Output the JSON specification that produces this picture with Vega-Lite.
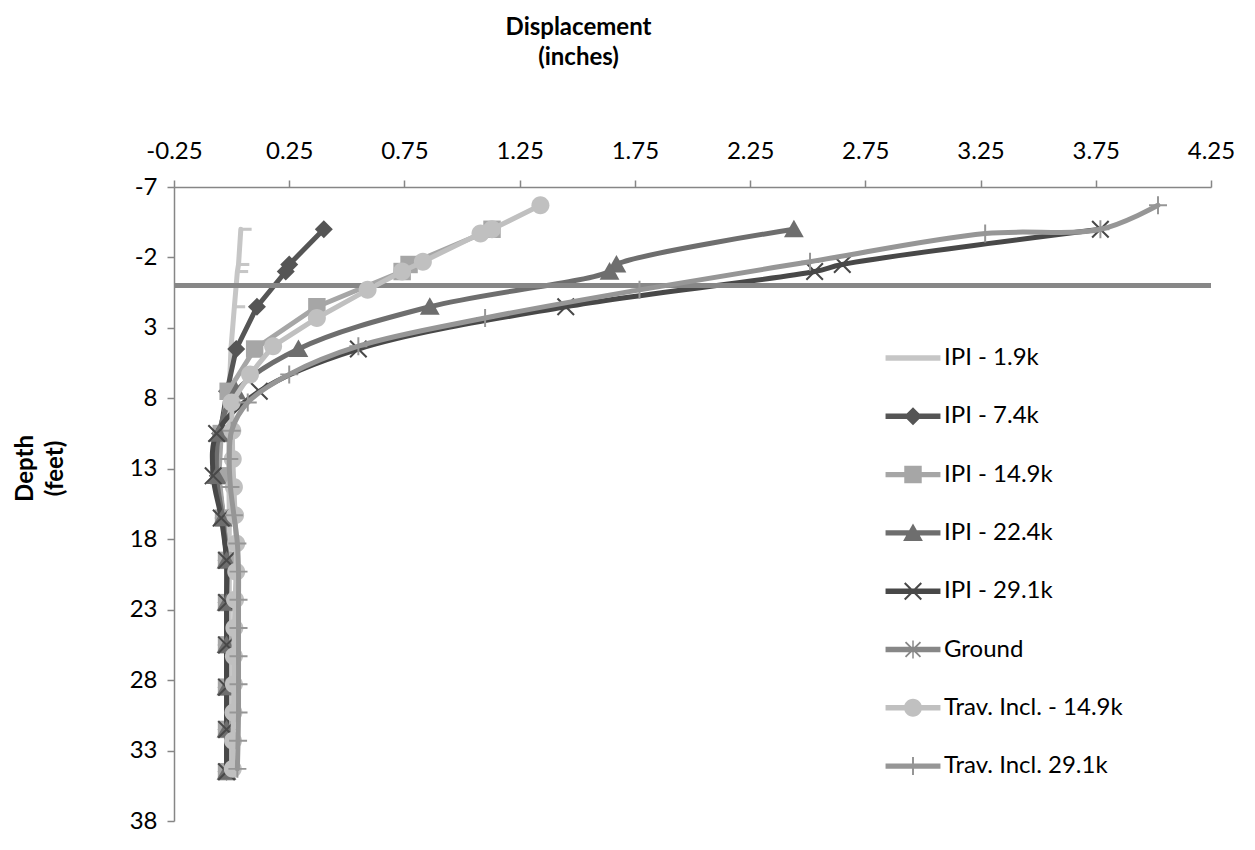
{
  "$schema": "https://vega.github.io/schema/vega-lite/v6.json",
  "width": 1037,
  "height": 634,
  "autosize": "none",
  "padding": {"left": 174, "top": 187, "right": 44, "bottom": 29},
  "background": "white",
  "config": {
    "view": {"stroke": null},
    "axis": {
      "grid": false,
      "domainColor": "#868686",
      "tickColor": "#868686",
      "domainWidth": 1.5,
      "tickWidth": 1.5,
      "tickSize": 7,
      "labelFont": "Lato",
      "labelFontSize": 24,
      "labelColor": "#000000",
      "labelFlush": false,
      "labelOverlap": false,
      "titleFont": "Lato",
      "titleFontSize": 24,
      "titleFontWeight": "bold",
      "titleColor": "#000000",
      "titleLineHeight": 30
    }
  },
  "data": {
    "values": [
      {"s": "IPI - 1.9k", "d": -4, "x": 0.04},
      {"s": "IPI - 1.9k", "d": -1.5, "x": 0.03},
      {"s": "IPI - 1.9k", "d": -1, "x": 0.025},
      {"s": "IPI - 1.9k", "d": 1.5, "x": 0.012},
      {"s": "IPI - 1.9k", "d": 4.5, "x": -0.003},
      {"s": "IPI - 1.9k", "d": 7.5, "x": -0.01},
      {"s": "IPI - 1.9k", "d": 10.5, "x": -0.012},
      {"s": "IPI - 1.9k", "d": 13.5, "x": -0.012},
      {"s": "IPI - 1.9k", "d": 16.5, "x": -0.01},
      {"s": "IPI - 1.9k", "d": 19.5, "x": -0.01},
      {"s": "IPI - 1.9k", "d": 22.5, "x": -0.01},
      {"s": "IPI - 1.9k", "d": 25.5, "x": -0.01},
      {"s": "IPI - 1.9k", "d": 28.5, "x": -0.01},
      {"s": "IPI - 1.9k", "d": 31.5, "x": -0.01},
      {"s": "IPI - 1.9k", "d": 34.5, "x": -0.01},

      {"s": "IPI - 7.4k", "d": -4, "x": 0.4},
      {"s": "IPI - 7.4k", "d": -1.5, "x": 0.25},
      {"s": "IPI - 7.4k", "d": -1, "x": 0.235},
      {"s": "IPI - 7.4k", "d": 1.5, "x": 0.11},
      {"s": "IPI - 7.4k", "d": 4.5, "x": 0.02},
      {"s": "IPI - 7.4k", "d": 7.5, "x": -0.02},
      {"s": "IPI - 7.4k", "d": 10.5, "x": -0.05},
      {"s": "IPI - 7.4k", "d": 13.5, "x": -0.06},
      {"s": "IPI - 7.4k", "d": 16.5, "x": -0.035},
      {"s": "IPI - 7.4k", "d": 19.5, "x": -0.022},
      {"s": "IPI - 7.4k", "d": 22.5, "x": -0.022},
      {"s": "IPI - 7.4k", "d": 25.5, "x": -0.022},
      {"s": "IPI - 7.4k", "d": 28.5, "x": -0.022},
      {"s": "IPI - 7.4k", "d": 31.5, "x": -0.022},
      {"s": "IPI - 7.4k", "d": 34.5, "x": -0.022},

      {"s": "IPI - 14.9k", "d": -4, "x": 1.13},
      {"s": "IPI - 14.9k", "d": -1.5, "x": 0.77},
      {"s": "IPI - 14.9k", "d": -1, "x": 0.74},
      {"s": "IPI - 14.9k", "d": 1.5, "x": 0.37},
      {"s": "IPI - 14.9k", "d": 4.5, "x": 0.1},
      {"s": "IPI - 14.9k", "d": 7.5, "x": -0.015},
      {"s": "IPI - 14.9k", "d": 10.5, "x": -0.045},
      {"s": "IPI - 14.9k", "d": 13.5, "x": -0.055},
      {"s": "IPI - 14.9k", "d": 16.5, "x": -0.035},
      {"s": "IPI - 14.9k", "d": 19.5, "x": -0.022},
      {"s": "IPI - 14.9k", "d": 22.5, "x": -0.022},
      {"s": "IPI - 14.9k", "d": 25.5, "x": -0.022},
      {"s": "IPI - 14.9k", "d": 28.5, "x": -0.022},
      {"s": "IPI - 14.9k", "d": 31.5, "x": -0.022},
      {"s": "IPI - 14.9k", "d": 34.5, "x": -0.022},

      {"s": "IPI - 22.4k", "d": -4, "x": 2.44},
      {"s": "IPI - 22.4k", "d": -1.5, "x": 1.67},
      {"s": "IPI - 22.4k", "d": -1, "x": 1.64},
      {"s": "IPI - 22.4k", "d": 1.5, "x": 0.86},
      {"s": "IPI - 22.4k", "d": 4.5, "x": 0.29},
      {"s": "IPI - 22.4k", "d": 7.5, "x": 0.02},
      {"s": "IPI - 22.4k", "d": 10.5, "x": -0.055},
      {"s": "IPI - 22.4k", "d": 13.5, "x": -0.065},
      {"s": "IPI - 22.4k", "d": 16.5, "x": -0.04},
      {"s": "IPI - 22.4k", "d": 19.5, "x": -0.022},
      {"s": "IPI - 22.4k", "d": 22.5, "x": -0.022},
      {"s": "IPI - 22.4k", "d": 25.5, "x": -0.022},
      {"s": "IPI - 22.4k", "d": 28.5, "x": -0.022},
      {"s": "IPI - 22.4k", "d": 31.5, "x": -0.022},
      {"s": "IPI - 22.4k", "d": 34.5, "x": -0.022},

      {"s": "IPI - 29.1k", "d": -4, "x": 3.77},
      {"s": "IPI - 29.1k", "d": -1.5, "x": 2.65},
      {"s": "IPI - 29.1k", "d": -1, "x": 2.53},
      {"s": "IPI - 29.1k", "d": 1.5, "x": 1.45},
      {"s": "IPI - 29.1k", "d": 4.5, "x": 0.55},
      {"s": "IPI - 29.1k", "d": 7.5, "x": 0.12},
      {"s": "IPI - 29.1k", "d": 10.5, "x": -0.065},
      {"s": "IPI - 29.1k", "d": 13.5, "x": -0.08},
      {"s": "IPI - 29.1k", "d": 16.5, "x": -0.045},
      {"s": "IPI - 29.1k", "d": 19.5, "x": -0.022},
      {"s": "IPI - 29.1k", "d": 22.5, "x": -0.022},
      {"s": "IPI - 29.1k", "d": 25.5, "x": -0.022},
      {"s": "IPI - 29.1k", "d": 28.5, "x": -0.022},
      {"s": "IPI - 29.1k", "d": 31.5, "x": -0.022},
      {"s": "IPI - 29.1k", "d": 34.5, "x": -0.022},

      {"s": "Ground", "d": 0, "x": -0.25},
      {"s": "Ground", "d": 0, "x": 4.25},

      {"s": "Trav. Incl. - 14.9k", "d": -5.7, "x": 1.34},
      {"s": "Trav. Incl. - 14.9k", "d": -4, "x": 1.13},
      {"s": "Trav. Incl. - 14.9k", "d": -3.7, "x": 1.08},
      {"s": "Trav. Incl. - 14.9k", "d": -1.7, "x": 0.83},
      {"s": "Trav. Incl. - 14.9k", "d": -1, "x": 0.74},
      {"s": "Trav. Incl. - 14.9k", "d": 0.3, "x": 0.59},
      {"s": "Trav. Incl. - 14.9k", "d": 2.3, "x": 0.37},
      {"s": "Trav. Incl. - 14.9k", "d": 4.3, "x": 0.18},
      {"s": "Trav. Incl. - 14.9k", "d": 6.3, "x": 0.08},
      {"s": "Trav. Incl. - 14.9k", "d": 8.3, "x": 0.0},
      {"s": "Trav. Incl. - 14.9k", "d": 10.3, "x": 0.003},
      {"s": "Trav. Incl. - 14.9k", "d": 12.3, "x": 0.005},
      {"s": "Trav. Incl. - 14.9k", "d": 14.3, "x": 0.01},
      {"s": "Trav. Incl. - 14.9k", "d": 16.3, "x": 0.015},
      {"s": "Trav. Incl. - 14.9k", "d": 18.3, "x": 0.02},
      {"s": "Trav. Incl. - 14.9k", "d": 20.3, "x": 0.02},
      {"s": "Trav. Incl. - 14.9k", "d": 22.3, "x": 0.015},
      {"s": "Trav. Incl. - 14.9k", "d": 24.3, "x": 0.012},
      {"s": "Trav. Incl. - 14.9k", "d": 26.3, "x": 0.01},
      {"s": "Trav. Incl. - 14.9k", "d": 28.3, "x": 0.01},
      {"s": "Trav. Incl. - 14.9k", "d": 30.3, "x": 0.008},
      {"s": "Trav. Incl. - 14.9k", "d": 32.3, "x": 0.006},
      {"s": "Trav. Incl. - 14.9k", "d": 34.3, "x": 0.005},

      {"s": "Trav. Incl. 29.1k", "d": -5.7, "x": 4.02},
      {"s": "Trav. Incl. 29.1k", "d": -4, "x": 3.77},
      {"s": "Trav. Incl. 29.1k", "d": -3.7, "x": 3.27},
      {"s": "Trav. Incl. 29.1k", "d": -1.7, "x": 2.51},
      {"s": "Trav. Incl. 29.1k", "d": 0.3, "x": 1.77},
      {"s": "Trav. Incl. 29.1k", "d": 2.3, "x": 1.1},
      {"s": "Trav. Incl. 29.1k", "d": 4.3, "x": 0.55},
      {"s": "Trav. Incl. 29.1k", "d": 6.3, "x": 0.25},
      {"s": "Trav. Incl. 29.1k", "d": 8.3, "x": 0.07},
      {"s": "Trav. Incl. 29.1k", "d": 10.3, "x": 0.0},
      {"s": "Trav. Incl. 29.1k", "d": 12.3, "x": -0.01},
      {"s": "Trav. Incl. 29.1k", "d": 14.3, "x": -0.005},
      {"s": "Trav. Incl. 29.1k", "d": 16.3, "x": 0.01},
      {"s": "Trav. Incl. 29.1k", "d": 18.3, "x": 0.025},
      {"s": "Trav. Incl. 29.1k", "d": 20.3, "x": 0.03},
      {"s": "Trav. Incl. 29.1k", "d": 22.3, "x": 0.03},
      {"s": "Trav. Incl. 29.1k", "d": 24.3, "x": 0.03},
      {"s": "Trav. Incl. 29.1k", "d": 26.3, "x": 0.03},
      {"s": "Trav. Incl. 29.1k", "d": 28.3, "x": 0.03},
      {"s": "Trav. Incl. 29.1k", "d": 30.3, "x": 0.03},
      {"s": "Trav. Incl. 29.1k", "d": 32.3, "x": 0.028},
      {"s": "Trav. Incl. 29.1k", "d": 34.3, "x": 0.025}
    ]
  },
  "encoding": {
    "x": {
      "field": "x",
      "type": "quantitative",
      "scale": {"domain": [-0.25, 4.25], "nice": false, "zero": false},
      "axis": {
        "orient": "top",
        "values": [-0.25, 0.25, 0.75, 1.25, 1.75, 2.25, 2.75, 3.25, 3.75, 4.25],
        "format": ".2f",
        "labelExpr": "replace(datum.label, '−', '-')",
        "labelPadding": 17,
        "title": ["Displacement", "(inches)"],
        "titleX": 404,
        "titleY": -153,
        "titleAlign": "center",
        "titleBaseline": "alphabetic"
      }
    },
    "y": {
      "field": "d",
      "type": "quantitative",
      "scale": {"domain": [-7, 38], "reverse": true, "nice": false, "zero": false},
      "axis": {
        "orient": "left",
        "values": [-7, -2, 3, 8, 13, 18, 23, 28, 33, 38],
        "labelExpr": "replace(datum.label, '−', '-')",
        "labelPadding": 10,
        "title": ["Depth", "(feet)"],
        "titleAngle": -90,
        "titleX": -142,
        "titleY": 281,
        "titleAlign": "center",
        "titleBaseline": "alphabetic"
      }
    },
    "color": {
      "field": "s",
      "type": "nominal",
      "scale": {
        "domain": ["IPI - 1.9k", "IPI - 7.4k", "IPI - 14.9k", "IPI - 22.4k", "IPI - 29.1k", "Ground", "Trav. Incl. - 14.9k", "Trav. Incl. 29.1k"],
        "range": ["#c6c6c6", "#555555", "#a6a6a6", "#6e6e6e", "#484848", "#878787", "#c0c0c0", "#969696"]
      },
      "legend": {
        "title": null,
        "orient": "none",
        "legendX": 727,
        "legendY": 159,
        "padding": 0,
        "symbolSize": 324,
        "symbolStrokeWidth": 0,
        "labelFont": "Lato",
        "labelFontSize": 24,
        "labelColor": "#000000",
        "labelOffset": 19,
        "rowPadding": 34.3,
        "labelLimit": 400,
        "encode": {
          "symbols": {
            "update": {
              "shape": {"signal": "'M-3.05,-0.3L3.05,-0.3L3.05,0.3L-3.05,0.3Z' + (datum.value == 'IPI - 7.4k' ? ' M0,-1L1,0L0,1L-1,0Z' : datum.value == 'IPI - 14.9k' ? ' M-0.97,-0.97L0.97,-0.97L0.97,0.97L-0.97,0.97Z' : datum.value == 'IPI - 22.4k' ? ' M0,-1.05L1.1,0.9L-1.1,0.9Z' : datum.value == 'IPI - 29.1k' ? ' M-1,-0.84L-0.84,-1L1,0.84L0.84,1Z M0.84,-1L1,-0.84L-0.84,1L-1,0.84Z' : datum.value == 'Ground' ? ' M-0.9,-0.76L-0.76,-0.9L0.9,0.76L0.76,0.9Z M0.76,-0.9L0.9,-0.76L-0.76,0.9L-0.9,0.76Z M-0.08,-1L0.08,-1L0.08,1L-0.08,1Z' : datum.value == 'Trav. Incl. - 14.9k' ? ' M-1,0A1,1,0,1,1,1,0A1,1,0,1,1,-1,0Z' : datum.value == 'Trav. Incl. 29.1k' ? ' M-1,-0.11L1,-0.11L1,0.11L-1,0.11Z M-0.11,-1L0.11,-1L0.11,1L-0.11,1Z' : '')"},
              "fill": {"signal": "scale('color', datum.value)"},
              "stroke": {"value": "transparent"},
              "strokeWidth": {"value": 0},
              "opacity": {"value": 1}
            }
          }
        }
      }
    }
  },
  "layer": [
    {
      "transform": [{"filter": {"field": "s", "oneOf": ["IPI - 1.9k", "IPI - 7.4k", "IPI - 14.9k"]}}],
      "mark": {"type": "line", "strokeWidth": 5, "strokeCap": "round", "strokeJoin": "round"},
      "encoding": {"order": {"field": "d", "type": "quantitative"}}
    },
    {
      "transform": [{"filter": "datum.s == 'IPI - 1.9k' && datum.d < 3"}],
      "mark": {"type": "point", "filled": true, "size": 324, "strokeWidth": 0, "opacity": 1, "shape": "M0,-0.17L1.2,-0.17L1.2,0.17L0,0.17Z"}
    },
    {
      "transform": [{"filter": {"field": "s", "equal": "IPI - 7.4k"}}],
      "mark": {"type": "point", "filled": true, "size": 324, "strokeWidth": 0, "opacity": 1, "shape": "M0,-1L1,0L0,1L-1,0Z"}
    },
    {
      "transform": [{"filter": {"field": "s", "equal": "IPI - 14.9k"}}],
      "mark": {"type": "point", "filled": true, "size": 324, "strokeWidth": 0, "opacity": 1, "shape": "M-0.97,-0.97L0.97,-0.97L0.97,0.97L-0.97,0.97Z"}
    },
    {
      "transform": [{"filter": {"field": "s", "oneOf": ["IPI - 22.4k", "IPI - 29.1k"]}}],
      "mark": {"type": "line", "interpolate": "catmull-rom", "strokeWidth": 5, "strokeCap": "round", "strokeJoin": "round"},
      "encoding": {"order": {"field": "d", "type": "quantitative"}}
    },
    {
      "transform": [{"filter": {"field": "s", "equal": "IPI - 22.4k"}}],
      "mark": {"type": "point", "filled": true, "size": 324, "strokeWidth": 0, "opacity": 1, "shape": "M0,-1.05L1.1,0.9L-1.1,0.9Z"}
    },
    {
      "transform": [{"filter": {"field": "s", "equal": "IPI - 29.1k"}}],
      "mark": {"type": "point", "filled": true, "size": 324, "strokeWidth": 0, "opacity": 1, "shape": "M-1,-0.84L-0.84,-1L1,0.84L0.84,1Z M0.84,-1L1,-0.84L-0.84,1L-1,0.84Z"}
    },
    {
      "transform": [{"filter": {"field": "s", "equal": "Ground"}}],
      "mark": {"type": "line", "strokeWidth": 5},
      "encoding": {"order": {"field": "x", "type": "quantitative"}}
    },
    {
      "transform": [{"filter": {"field": "s", "equal": "Trav. Incl. - 14.9k"}}],
      "mark": {"type": "line", "strokeWidth": 5, "strokeCap": "round", "strokeJoin": "round"},
      "encoding": {"order": {"field": "d", "type": "quantitative"}}
    },
    {
      "transform": [{"filter": {"field": "s", "equal": "Trav. Incl. - 14.9k"}}],
      "mark": {"type": "point", "filled": true, "size": 324, "strokeWidth": 0, "opacity": 1, "shape": "M-1,0A1,1,0,1,1,1,0A1,1,0,1,1,-1,0Z"}
    },
    {
      "transform": [{"filter": {"field": "s", "equal": "Trav. Incl. 29.1k"}}],
      "mark": {"type": "line", "interpolate": "catmull-rom", "strokeWidth": 5, "strokeCap": "round", "strokeJoin": "round"},
      "encoding": {"order": {"field": "d", "type": "quantitative"}}
    },
    {
      "transform": [{"filter": {"field": "s", "equal": "Trav. Incl. 29.1k"}}],
      "mark": {"type": "point", "filled": true, "size": 324, "strokeWidth": 0, "opacity": 1, "shape": "M-1,-0.11L1,-0.11L1,0.11L-1,0.11Z M-0.11,-1L0.11,-1L0.11,1L-0.11,1Z"}
    }
  ]
}
